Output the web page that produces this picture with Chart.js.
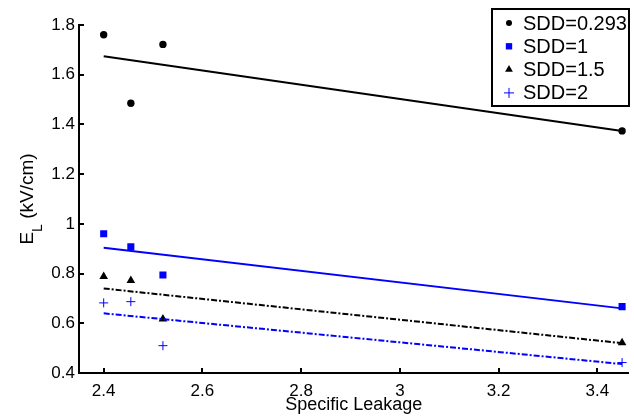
<!DOCTYPE html>
<html>
<head>
<meta charset="utf-8">
<script src="https://cdn.jsdelivr.net/npm/chart.js@4.4.1/dist/chart.umd.min.js"></script>
<style>
  html, body { margin: 0; padding: 0; background: #fff; }
  #wrap { width: 634px; height: 417px; }
</style>
</head>
<body>
<div id="wrap"><canvas id="leakChart" width="634" height="417"></canvas></div>
<script>
// measured points (specific leakage vs E_L)
const leakage = [2.4, 2.455, 2.52, 3.45];
const sdd0293 = [1.761, 1.485, 1.722, 1.374];
const sdd1 = [0.960, 0.908, 0.794, 0.667];
const sdd15 = [0.788, 0.772, 0.617, 0.522];
const sdd2 = [0.682, 0.687, 0.510, 0.442];

// linear fit end points
const fitX = [2.4, 3.45];
const fit0293 = [1.674, 1.374];
const fit1 = [0.904, 0.660];
const fit15 = [0.740, 0.520];
const fit2 = [0.640, 0.436];

const xTicks = [2.4, 2.6, 2.8, 3, 3.2, 3.4];
const yTicks = [0.4, 0.6, 0.8, 1, 1.2, 1.4, 1.6, 1.8];

const legendNames = ['SDD=0.293', 'SDD=1', 'SDD=1.5', 'SDD=2'];

const FONT = '"Liberation Sans", Arial, Helvetica, sans-serif';
const BLUE = '#0000ff';

const toXY = (xs, ys) => xs.map((x, i) => ({ x: x, y: ys[i] }));

function fitSet(ys, color, dash) {
    return {
        type: 'line',
        data: toXY(fitX, ys),
        borderColor: color,
        borderWidth: 2,
        borderDash: dash,
        pointRadius: 0,
        fill: false,
        tension: 0
    };
}

function pointSet(ys, color, style, radius) {
    return {
        type: 'scatter',
        data: toXY(leakage, ys),
        backgroundColor: color,
        borderColor: color,
        borderWidth: style === 'cross' ? 1 : 0,
        pointStyle: style,
        pointRadius: radius,
        pointHoverRadius: radius
    };
}

const dashDot = [6, 2, 2, 2];

// inward tick marks, axis titles and boxed legend
const decorations = {
    id: 'decorations',
    afterDraw(chart) {
        const ctx = chart.ctx;
        const xs = chart.scales.x;
        const ys = chart.scales.y;
        const area = chart.chartArea;

        ctx.save();
        ctx.strokeStyle = '#000';
        ctx.lineWidth = 2;
        ctx.beginPath();
        xTicks.forEach(v => {
            const px = Math.round(xs.getPixelForValue(v));
            ctx.moveTo(px, area.bottom);
            ctx.lineTo(px, area.bottom - 5);
        });
        yTicks.forEach(v => {
            const py = Math.round(ys.getPixelForValue(v));
            ctx.moveTo(area.left, py);
            ctx.lineTo(area.left + 5, py);
        });
        ctx.stroke();

        // x title
        ctx.fillStyle = '#000';
        ctx.font = '18px ' + FONT;
        ctx.textAlign = 'center';
        ctx.textBaseline = 'middle';
        ctx.fillText('Specific Leakage', (area.left + area.right) / 2, 405);

        // y title with subscript
        const big = '19px ' + FONT;
        const small = '14px ' + FONT;
        ctx.font = big;
        const wE = ctx.measureText('E').width;
        const wRest = ctx.measureText(' (kV/cm)').width;
        ctx.font = small;
        const wL = ctx.measureText('L').width;
        const total = wE + wL + wRest;
        ctx.translate(33, (area.top + area.bottom) / 2);
        ctx.rotate(-Math.PI / 2);
        ctx.textAlign = 'left';
        ctx.textBaseline = 'alphabetic';
        let cx = -total / 2;
        ctx.font = big;
        ctx.fillText('E', cx, 0);
        cx += wE;
        ctx.font = small;
        ctx.fillText('L', cx, 9);
        cx += wL;
        ctx.font = big;
        ctx.fillText(' (kV/cm)', cx, 0);
        ctx.restore();

        // legend
        ctx.save();
        const box = { x: 492, y: 9, w: 137, h: 97 };
        ctx.fillStyle = '#fff';
        ctx.fillRect(box.x, box.y, box.w, box.h);
        ctx.strokeStyle = '#000';
        ctx.lineWidth = 2;
        ctx.strokeRect(box.x, box.y, box.w, box.h);

        const markers = [
            { style: 'circle', color: '#000', r: 3, bw: 0 },
            { style: 'rect', color: BLUE, r: 4.5, bw: 0 },
            { style: 'triangle', color: '#000', r: 4.5, bw: 0 },
            { style: 'cross', color: BLUE, r: 5, bw: 1 }
        ];
        ctx.font = '20px ' + FONT;
        ctx.textAlign = 'left';
        ctx.textBaseline = 'middle';
        legendNames.forEach((name, i) => {
            const ry = 23 + i * 23.3;
            const m = markers[i];
            ctx.fillStyle = m.color;
            ctx.strokeStyle = m.color;
            ctx.lineWidth = m.bw;
            Chart.helpers.drawPoint(ctx, {
                pointStyle: m.style,
                radius: m.r,
                borderWidth: m.bw,
                rotation: 0
            }, 509, ry);
            ctx.fillStyle = '#000';
            ctx.fillText(name, 523, ry + 1);
        });
        ctx.restore();
    }
};

const ctx = document.getElementById('leakChart').getContext('2d');
const leakChart = new Chart(ctx, {
    data: {
        datasets: [
            fitSet(fit0293, '#000', []),
            fitSet(fit1, BLUE, []),
            fitSet(fit15, '#000', dashDot),
            fitSet(fit2, BLUE, dashDot),
            pointSet(sdd0293, '#000', 'circle', 3.7),
            pointSet(sdd1, BLUE, 'rect', 5),
            pointSet(sdd15, '#000', 'triangle', 5),
            pointSet(sdd2, BLUE, 'cross', 4.5)
        ]
    },
    options: {
        responsive: false,
        animation: false,
        devicePixelRatio: 1,
        layout: { padding: { top: 25, right: 3, left: 0, bottom: 0 } },
        plugins: {
            legend: { display: false },
            tooltip: { enabled: false }
        },
        scales: {
            x: {
                type: 'linear',
                min: 2.35,
                max: 3.463,
                afterBuildTicks: s => { s.ticks = xTicks.map(v => ({ value: v })); },
                afterFit: s => { s.height = 44; },
                grid: { display: false, drawTicks: false },
                border: { display: true, color: '#000', width: 2 },
                ticks: {
                    color: '#000',
                    font: { family: FONT, size: 17 },
                    padding: 8,
                    maxRotation: 0,
                    callback: v => String(Math.round(v * 10) / 10)
                }
            },
            y: {
                type: 'linear',
                min: 0.4,
                max: 1.8,
                afterBuildTicks: s => { s.ticks = yTicks.map(v => ({ value: v })); },
                afterFit: s => { s.width = 79; },
                grid: { display: false, drawTicks: false },
                border: { display: true, color: '#000', width: 2 },
                ticks: {
                    color: '#000',
                    font: { family: FONT, size: 17 },
                    padding: 4,
                    callback: v => String(Math.round(v * 10) / 10)
                }
            }
        }
    },
    plugins: [decorations]
});
</script>
</body>
</html>
